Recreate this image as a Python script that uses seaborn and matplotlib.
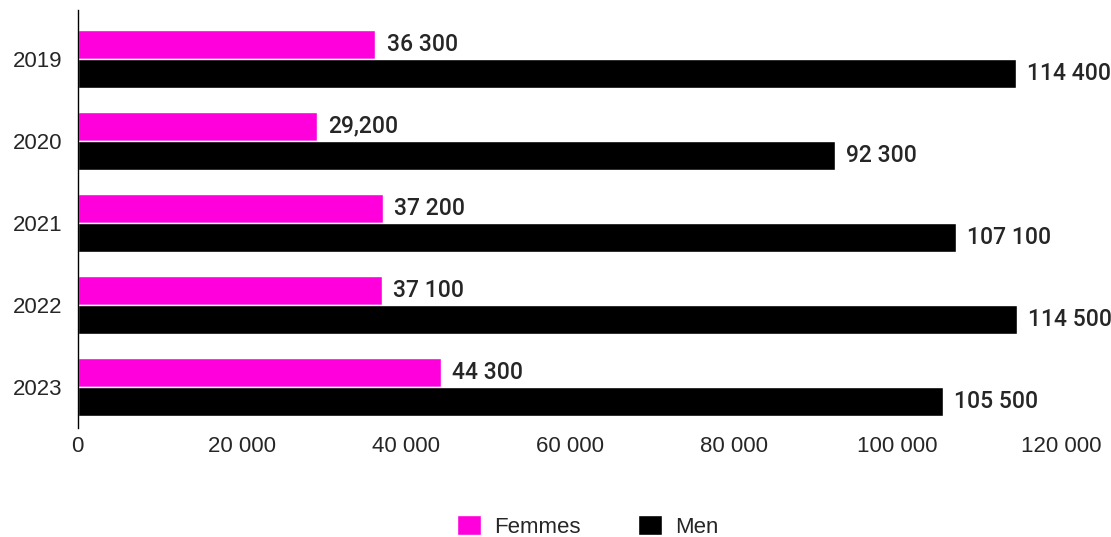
import pandas as pd
import matplotlib.pyplot as plt
import seaborn as sns
from matplotlib.ticker import FuncFormatter

years = ['2019', '2020', '2021', '2022', '2023']
femmes = [36300, 29200, 37200, 37100, 44300]
men = [114400, 92300, 107100, 114500, 105500]
femmes_labels = ['36 300', '29,200', '37 200', '37 100', '44 300']
men_labels = ['114 400', '92 300', '107 100', '114 500', '105 500']
series = ['Femmes', 'Men']
colors = ['#FF00DD', '#000000']

df = pd.DataFrame({
    'year': years * 2,
    'value': femmes + men,
    'series': ['Femmes'] * len(years) + ['Men'] * len(years),
})

sns.set_style('white')
plt.rcParams['font.family'] = ['Liberation Sans', 'DejaVu Sans']

fig, ax = plt.subplots(figsize=(11.11, 5.37), dpi=100)
fig.subplots_adjust(left=0.070, right=0.963, top=0.982, bottom=0.203)

sns.barplot(data=df, x='value', y='year', hue='series', orient='h',
            palette=colors, hue_order=series, width=0.71, saturation=1,
            ax=ax, legend=True)

# value labels
for cont, labels in zip(ax.containers, [femmes_labels, men_labels]):
    ax.bar_label(cont, labels=labels, padding=8, fontsize=16.5,
                 fontweight='medium', family=['Roboto', 'DejaVu Sans'])

ax.set_xlim(0, 121000)
ax.set_ylim(4.5, -0.6)
ax.set_xticks(range(0, 120001, 20000))
ax.xaxis.set_major_formatter(FuncFormatter(lambda v, p: f'{int(v):,}'.replace(',', ' ')))
ax.tick_params(axis='x', labelsize=16, length=0, pad=6)
ax.tick_params(axis='y', labelsize=16, length=0, pad=11)
ax.set_xlabel('')
ax.set_ylabel('')

for s in ['top', 'right', 'bottom']:
    ax.spines[s].set_visible(False)
ax.spines['left'].set_color('black')
ax.spines['left'].set_linewidth(1)

ax.legend(loc='center', bbox_to_anchor=(0.529, 0.02), bbox_transform=fig.transFigure,
          ncol=2, frameon=False, fontsize=16, handlelength=1.05, handleheight=1.05,
          columnspacing=2.6, handletextpad=0.6, borderpad=0)

fig.savefig('out.png', dpi=100)
